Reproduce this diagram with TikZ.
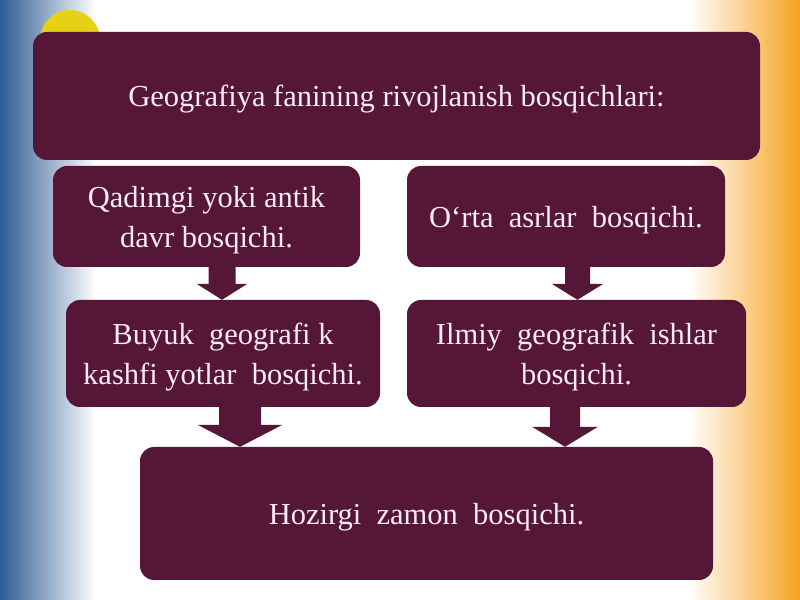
\documentclass[tikz,border=0pt]{standalone}
\usepackage{fontspec}
\setmainfont{Liberation Serif}
\usepackage{tikz}
\usetikzlibrary{arrows,positioning,calc}
\usetikzlibrary{shapes.geometric,arrows.meta}

\definecolor{boxcol}{RGB}{86,22,56}
\definecolor{txtcol}{RGB}{250,236,242}
\definecolor{blueA}{RGB}{44,92,148}
\definecolor{blueB}{RGB}{125,162,200}
\definecolor{orangeL}{RGB}{252,206,122}
\definecolor{orangeD}{RGB}{246,162,32}
\definecolor{sunyellow}{RGB}{232,208,22}

\begin{document}
\begin{tikzpicture}[>=latex',line join=bevel,
  stage/.style={fill=boxcol,rounded corners=14bp,text=txtcol,align=center,
    inner sep=0pt,text depth=-3bp,font=\fontsize{30.5bp}{40bp}\selectfont},
  blockarrow/.style n args={3}{draw=boxcol,line width=#1,
    -{Triangle[width=#2,length=#3]}}]
  \useasboundingbox (0,0) rectangle (800bp,600bp);
%%
  % Background
  \fill[white] (0,0) rectangle (800bp,600bp);
  \shade[left color=blueA,middle color=blueB,right color=white] (0,0) rectangle (96bp,600bp);
  \shade[left color=white,middle color=orangeL,right color=orangeD] (688bp,0) rectangle (800bp,600bp);
  \fill[sunyellow] (70bp,560bp) circle (30bp);
  % Node: top
  \node[stage,minimum width=727bp,minimum height=128bp] (top) at (396.5bp,504bp)
    {Geografiya\ fanining\ rivojlanish\ bosqichlari:};
  % Node: qadim
  \node[stage,minimum width=307bp,minimum height=101bp] (qadim) at (206.5bp,383.5bp)
    {Qadimgi yoki antik\\davr bosqichi.};
  % Node: orta
  \node[stage,minimum width=318bp,minimum height=101bp] (orta) at (566bp,383.5bp)
    {O‘rta\ \ asrlar\ \ bosqichi.};
  % Node: buyuk
  \node[stage,minimum width=314bp,minimum height=107bp] (buyuk) at (223bp,246.5bp)
    {Buyuk\ \ geografi k\\kashfi yotlar\ \ bosqichi.};
  % Node: ilmiy
  \node[stage,minimum width=339bp,minimum height=107bp] (ilmiy) at (576.5bp,246.5bp)
    {Ilmiy\ \ geografik\ \ ishlar\\bosqichi.};
  % Node: hozir
  \node[stage,minimum width=573bp,minimum height=133bp] (hozir) at (426.5bp,86.5bp)
    {Hozirgi\ \ zamon\ \ bosqichi.};
  % Edge: qadim -> buyuk
  \draw[blockarrow={27bp}{50bp}{16bp}] ([xshift=15.5bp]qadim.south) -- ([xshift=-1bp]buyuk.north);
  % Edge: orta -> ilmiy
  \draw[blockarrow={25bp}{51bp}{16bp}] ([xshift=11.5bp]orta.south) -- ([xshift=1bp]ilmiy.north);
  % Edge: buyuk -> hozir
  \draw[blockarrow={42bp}{84bp}{22bp}] ([xshift=17bp]buyuk.south) -- ([xshift=-186.5bp]hozir.north);
  % Edge: ilmiy -> hozir
  \draw[blockarrow={30bp}{65bp}{20bp}] ([xshift=-11.5bp]ilmiy.south) -- ([xshift=138.5bp]hozir.north);
%
\end{tikzpicture}
\end{document}
